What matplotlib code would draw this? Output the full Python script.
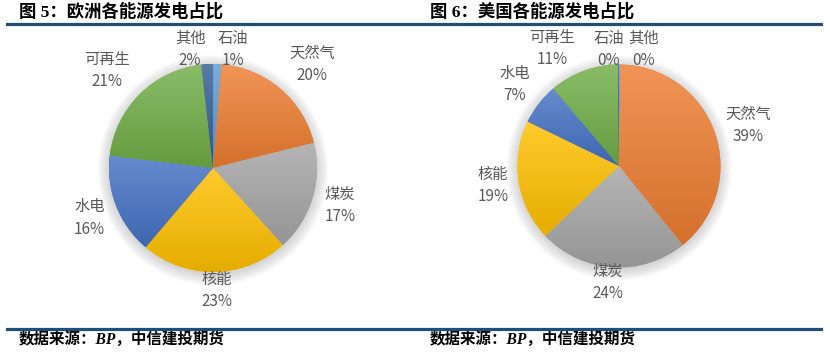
import matplotlib
matplotlib.use("Agg")
import matplotlib.pyplot as plt
from matplotlib.colors import to_rgb
from matplotlib.lines import Line2D
from matplotlib.patches import Circle
import numpy as np

plt.rcParams['font.family'] = ['Noto Sans CJK SC', 'DejaVu Sans']

# DATOS
categorias = ['石油', '天然气', '煤炭', '核能', '水电', '可再生', '其他']
europa = [1.3, 19.8, 17.2, 22.9, 15.7, 21.3, 1.8]
eeuu = [0.2, 39.0, 23.7, 19.3, 6.6, 11.0, 0.2]
colores = ['#5B9BD5', '#ED7D31', '#A5A5A5', '#FFC000', '#4472C4', '#70AD47', '#335F94']
titulos = ['图 5：欧洲各能源发电占比', '图 6：美国各能源发电占比']
fuente = '数据来源：BP，中信建投期货'

W, H = 830, 354

# posiciones de etiquetas (unidades del radio)
etiquetas_eu = [(0.19, 1.14), (0.95, 1.00), (1.22, -0.36), (0.04, -1.18),
                (-1.19, -0.48), (-1.02, 0.94), (-0.22, 1.14)]
etiquetas_us = [(-0.10, 1.15), (1.27, 0.40), (-0.11, -1.15), (-1.24, -0.19),
                (-1.03, 0.80), (-0.66, 1.16), (0.24, 1.15)]


def dibujar_pastel(ax, valores, etiquetas, radio_px, centro, caja):
    cx, cy = centro
    x0, y0, x1, y1 = caja
    # sombra suave
    for k in range(10):
        ax.add_patch(Circle((0, -0.02), 1 + 0.012 * k, color='#808080',
                            alpha=0.035, lw=0, zorder=0))
    cuñas, _ = ax.pie(valores, colors=colores, startangle=90, counterclock=False,
                      radius=1, wedgeprops=dict(linewidth=0))
    for c, w in zip(colores, cuñas):
        w.set_zorder(1)
        rgb = np.array(to_rgb(c))
        claro = rgb + (1 - rgb) * 0.18
        oscuro = rgb * 0.9
        t = np.linspace(0, 1, 64)[:, None]
        grad = (claro * (1 - t) + oscuro * t)[:, None, :]
        v = w.get_path().vertices
        img = ax.imshow(grad, extent=(v[:, 0].min(), v[:, 0].max(),
                                      v[:, 1].min(), v[:, 1].max()),
                        aspect='auto', zorder=2, interpolation='bilinear')
        img.set_clip_path(w)
    for nombre, val, (lx, ly) in zip(categorias, valores, etiquetas):
        ax.text(lx, ly, f"{nombre}\n{val:.0f}%", ha='center', va='center',
                fontsize=11, color='#595959', linespacing=1.4, zorder=5)
    ax.set_aspect('auto')
    ax.set_xlim((x0 - cx) / radio_px, (x1 - cx) / radio_px)
    ax.set_ylim((cy - y1) / radio_px, (cy - y0) / radio_px)
    ax.axis('off')


fig = plt.figure(figsize=(W / 100, H / 100), dpi=100)

cajas = [(13, 28, 413, 318), (419, 28, 819, 318)]
centros = [(213, 168), (619, 166)]
radios = [104, 101.5]
datos = [europa, eeuu]
etiquetas = [etiquetas_eu, etiquetas_us]

for i in range(2):
    x0, y0, x1, y1 = cajas[i]
    ax = fig.add_axes([x0 / W, 1 - y1 / H, (x1 - x0) / W, (y1 - y0) / H])
    dibujar_pastel(ax, datos[i], etiquetas[i], radios[i], centros[i], cajas[i])

# TITULOS Y FUENTE
for xt, tit in zip([19, 430], titulos):
    fig.text(xt / W, 1 - 12 / H, tit, fontsize=12.5, fontweight='bold', va='center',
             ha='left', family=['Liberation Serif', 'Noto Sans CJK SC'])
    fig.text(xt / W, 1 - 340 / H, fuente, fontsize=11.2, fontweight='bold',
             style='italic', va='center', ha='left',
             family=['Liberation Serif', 'Noto Sans CJK SC'])

for yl in [24, 329]:
    fig.add_artist(Line2D([7 / W, 821 / W], [1 - yl / H] * 2, color='#1F4E79', lw=2.3))

fig.savefig('out.png', dpi=100)
